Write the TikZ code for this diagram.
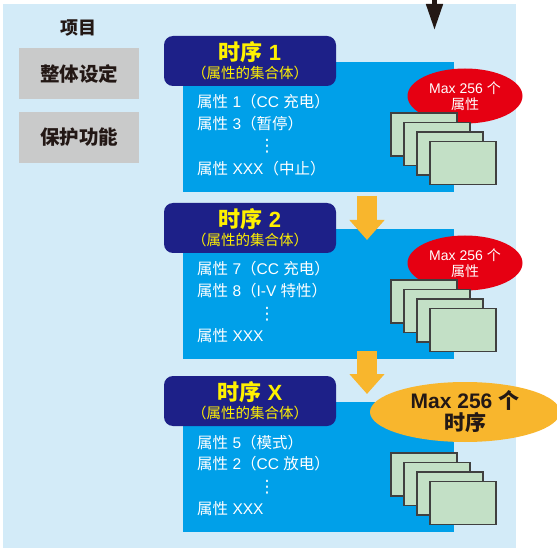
\documentclass[tikz,border=0pt]{standalone}
\usepackage{fontspec}
\setmainfont{Liberation Sans}
\newfontfamily\cjk{Noto Sans CJK SC}
\newfontfamily\symf{DejaVu Sans}
\usepackage{tikz}
\usetikzlibrary{arrows.meta,shapes.geometric}

\definecolor{bgblue}{HTML}{D3EBF8}
\definecolor{bodyblue}{HTML}{00A0E9}
\definecolor{headnavy}{HTML}{1D2088}
\definecolor{titleyellow}{HTML}{FFF100}
\definecolor{menugray}{HTML}{C9CACA}
\definecolor{maxred}{HTML}{E60012}
\definecolor{maxorange}{HTML}{F8B62D}
\definecolor{cardgreen}{HTML}{C3E0C6}
\definecolor{darktext}{HTML}{231815}

\tikzset{
  menubox/.style={fill=menugray,minimum width=120,minimum height=51,inner sep=0,
    text=darktext,font=\fontsize{19.5}{21}\selectfont\bfseries\cjk},
  seqhead/.style={fill=headnavy,rounded corners=9,minimum width=172,minimum height=50},
  seqbody/.style={fill=bodyblue,minimum width=271,minimum height=130,inner sep=0},
  seqtitle/.style={text=titleyellow,inner sep=0,font=\fontsize{22}{24}\selectfont\bfseries},
  seqsub/.style={text=titleyellow,inner sep=0,font=\fontsize{14.5}{16}\selectfont\cjk},
  attr/.style={anchor=west,text=white,inner sep=0,font=\fontsize{15.5}{18}\selectfont},
  attrdots/.style={text=white,inner sep=0,font=\fontsize{17}{17}\selectfont\symf},
  maxbubble/.style={ellipse,fill=maxred,text=white,align=center,inner sep=0,
    minimum width=115,minimum height=55,font=\fontsize{14}{16}\selectfont},
  card/.style={fill=cardgreen,draw=black!75,line width=1.1pt},
  flowarrow/.style={maxorange,line width=20pt,-{Triangle[width=34pt,length=20pt]}}
}

\begin{document}
\begin{tikzpicture}[x=1pt,y=-1pt]
  \useasboundingbox (0,0) rectangle (557,548);
  \fill[bgblue] (3,4) rectangle (516,548);

  % incoming arrow
  \coordinate (intop) at (434.5,0);
  \coordinate (inend) at (434.5,30);
  \draw[darktext,line width=4.5pt,-{Triangle[width=16pt,length=26pt]}] (intop) -- (inend);

  % items
  \node[text=darktext,font=\fontsize{18}{20}\selectfont\bfseries\cjk] (items) at (78,28) {项目};
  \node[menubox] (overall) at (79,73.5) {整体设定};
  \node[menubox] (protect) at (79,137.5) {保护功能};

  % sequence 1
  \node[seqbody] (s1body) at (318.5,127) {};
  \node[seqhead] (s1head) at (250,61) {};
  \node[seqtitle] (s1title) at (250,52) {{\cjk 时序} 1};
  \node[seqsub] (s1sub) at (250,72.5) {（属性的集合体）};
  \node[attr] (s1a) at (197,102) {{\cjk 属性} 1{\cjk （}CC {\cjk 充电）}};
  \node[attr] (s1b) at (197,124) {{\cjk 属性} 3{\cjk （暂停）}};
  \node[attrdots] (s1dots) at (267,146) {⋮};
  \node[attr] (s1c) at (197,169) {{\cjk 属性} XXX{\cjk （中止）}};
  \node[maxbubble] (s1max) at (465,96) {Max 256 {\cjk 个}\\{\cjk 属性}};
  \foreach \i in {0,...,3}
    \draw[card] (391+13*\i,113+9.5*\i) rectangle +(66,43);

  % sequence 2
  \node[seqbody] (s2body) at (318.5,294) {};
  \node[seqhead] (s2head) at (250,228) {};
  \node[seqtitle] (s2title) at (250,219) {{\cjk 时序} 2};
  \node[seqsub] (s2sub) at (250,239.5) {（属性的集合体）};
  \node[attr] (s2a) at (197,269) {{\cjk 属性} 7{\cjk （}CC {\cjk 充电）}};
  \node[attr] (s2b) at (197,291) {{\cjk 属性} 8{\cjk （}I-V {\cjk 特性）}};
  \node[attrdots] (s2dots) at (267,314) {⋮};
  \node[attr] (s2c) at (197,336) {{\cjk 属性} XXX};
  \node[maxbubble] (s2max) at (465,263) {Max 256 {\cjk 个}\\{\cjk 属性}};
  \foreach \i in {0,...,3}
    \draw[card] (391+13*\i,280+9.5*\i) rectangle +(66,43);

  \coordinate (a1tail) at (367,196);
  \coordinate (a1tip) at (367,240);
  \draw[flowarrow] (a1tail) -- (a1tip);

  % sequence X
  \node[seqbody] (sxbody) at (318.5,467) {};
  \node[seqhead] (sxhead) at (250,401) {};
  \node[seqtitle] (sxtitle) at (250,392) {{\cjk 时序} X};
  \node[seqsub] (sxsub) at (250,412.5) {（属性的集合体）};
  \node[attr] (sxa) at (197,443) {{\cjk 属性} 5{\cjk （模式）}};
  \node[attr] (sxb) at (197,464) {{\cjk 属性} 2{\cjk （}CC {\cjk 放电）}};
  \node[attrdots] (sxdots) at (267,487) {⋮};
  \node[attr] (sxc) at (197,509) {{\cjk 属性} XXX};
  \foreach \i in {0,...,3}
    \draw[card] (391+13*\i,453+9.5*\i) rectangle +(66,43);

  \coordinate (a2tail) at (367,351);
  \coordinate (a2tip) at (367,394);
  \draw[flowarrow] (a2tail) -- (a2tip);

  \node[ellipse,fill=maxorange,text=darktext,align=center,inner sep=0,
    minimum width=190,minimum height=60,font=\fontsize{21}{22}\selectfont\bfseries]
    (sxmax) at (465,412) {Max 256 {\cjk 个}\\{\cjk 时序}};
\end{tikzpicture}
\end{document}
